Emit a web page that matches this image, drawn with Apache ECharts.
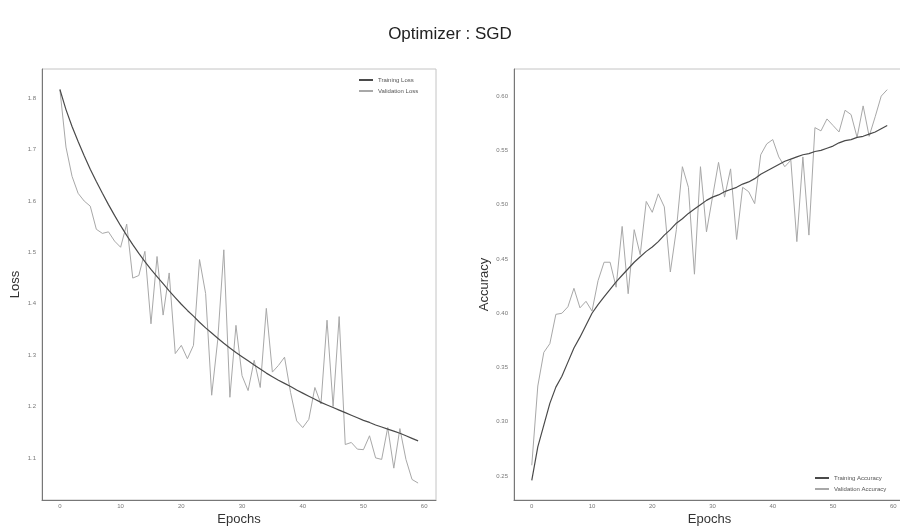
<!DOCTYPE html>
<html>
<head>
<meta charset="utf-8">
<script src="https://cdn.jsdelivr.net/npm/echarts@6/dist/echarts.min.js"></script>
<style>
  html, body { margin: 0; padding: 0; background: #fff; }
  #chart { width: 900px; height: 527px; }
</style>
</head>
<body>
<div id="chart"></div>
<script>
// epochs 0..59
const epochs = [0,1,2,3,4,5,6,7,8,9,10,11,12,13,14,15,16,17,18,19,20,21,22,23,24,25,26,27,28,29,
  30,31,32,33,34,35,36,37,38,39,40,41,42,43,44,45,46,47,48,49,50,51,52,53,54,55,56,57,58,59];

const trainLoss = [1.817,1.778,1.745,1.716,1.688,1.662,1.638,1.615,1.593,1.572,
  1.552,1.533,1.515,1.498,1.482,1.467,1.453,1.439,1.425,1.412,
  1.399,1.387,1.376,1.364,1.353,1.343,1.333,1.323,1.314,1.305,
  1.297,1.289,1.281,1.273,1.265,1.258,1.251,1.245,1.239,1.232,
  1.226,1.220,1.214,1.208,1.203,1.198,1.193,1.188,1.183,1.178,
  1.173,1.169,1.164,1.160,1.156,1.152,1.148,1.143,1.138,1.133];

const valLoss = [1.817,1.705,1.648,1.615,1.600,1.590,1.545,1.537,1.540,1.522,
  1.510,1.555,1.450,1.455,1.502,1.361,1.492,1.378,1.460,1.303,
  1.319,1.293,1.319,1.486,1.420,1.222,1.330,1.505,1.218,1.358,
  1.260,1.231,1.290,1.237,1.391,1.267,1.280,1.296,1.227,1.172,
  1.159,1.175,1.237,1.205,1.368,1.200,1.375,1.126,1.130,1.117,
  1.116,1.143,1.100,1.097,1.159,1.080,1.157,1.097,1.058,1.051];

const trainAcc = [0.246,0.277,0.297,0.317,0.332,0.342,0.355,0.368,0.378,0.389,
  0.400,0.408,0.415,0.422,0.429,0.435,0.441,0.447,0.452,0.457,
  0.461,0.466,0.472,0.477,0.483,0.487,0.492,0.496,0.500,0.504,
  0.507,0.509,0.512,0.514,0.516,0.519,0.521,0.524,0.528,0.531,
  0.534,0.537,0.540,0.542,0.544,0.546,0.547,0.549,0.550,0.552,
  0.554,0.557,0.559,0.560,0.562,0.563,0.565,0.567,0.570,0.573];

const valAcc = [0.260,0.333,0.364,0.372,0.399,0.400,0.406,0.423,0.405,0.411,
  0.402,0.430,0.447,0.447,0.424,0.480,0.418,0.477,0.454,0.503,
  0.493,0.510,0.498,0.438,0.477,0.535,0.516,0.436,0.535,0.475,
  0.507,0.539,0.507,0.533,0.468,0.516,0.512,0.501,0.546,0.556,
  0.560,0.544,0.535,0.541,0.466,0.544,0.472,0.571,0.568,0.579,
  0.573,0.567,0.587,0.583,0.562,0.591,0.563,0.581,0.600,0.606];

const epochTicks = [0, 10, 20, 30, 40, 50, 60];
const lossTicks = [1.1, 1.2, 1.3, 1.4, 1.5, 1.6, 1.7, 1.8];
const accTicks = [0.25, 0.30, 0.35, 0.40, 0.45, 0.50, 0.55, 0.60];

const FONT = 'Liberation Sans';
const TRAIN_COLOR = '#4a4a4a';
const VAL_COLOR = '#a8a8a8';

const pairs = (ys) => epochs.map((e, i) => [e, ys[i]]);

const chart = echarts.init(document.getElementById('chart'), null, {renderer: 'canvas'});

function xAxis(gridIndex) {
  return {
    type: 'value', gridIndex,
    min: -2.95, max: 61.95,
    name: 'Epochs', nameLocation: 'middle', nameGap: 13, nameMoveOverlap: false,
    nameTextStyle: {fontFamily: FONT, fontSize: 13, color: '#333'},
    axisLine: {show: true, onZero: false, lineStyle: {color: '#777', width: 1}},
    axisTick: {show: false},
    splitLine: {show: false},
    axisLabel: {
      customValues: epochTicks, fontFamily: FONT, fontSize: 6, color: '#777', margin: 3,
      formatter: (v) => String(v)
    }
  };
}

function yAxis(gridIndex, name, min, max, ticks, digits, gap) {
  return {
    type: 'value', gridIndex, min, max,
    name, nameLocation: 'middle', nameGap: gap, nameMoveOverlap: false,
    nameTextStyle: {fontFamily: FONT, fontSize: 13, color: '#333'},
    axisLine: {show: true, onZero: false, lineStyle: {color: '#777', width: 1}},
    axisTick: {show: false},
    splitLine: {show: false},
    axisLabel: {
      customValues: ticks, fontFamily: FONT, fontSize: 6, color: '#777', margin: 6,
      formatter: (v) => v.toFixed(digits)
    }
  };
}

function line(name, data, color, width, xi) {
  return {
    name, type: 'line', xAxisIndex: xi, yAxisIndex: xi,
    data, showSymbol: false, symbol: 'none',
    lineStyle: {color, width}, itemStyle: {color},
    z: color === TRAIN_COLOR ? 3 : 2
  };
}

const legendText = {fontFamily: FONT, fontSize: 6, color: '#555'};

chart.setOption({
  animation: false,
  backgroundColor: '#fff',
  title: {
    text: 'Optimizer : SGD', left: 'center', top: 21,
    textStyle: {fontFamily: FONT, fontSize: 17, fontWeight: 'normal', color: '#222'}
  },
  grid: [
    {left: 42, top: 69, width: 394, height: 431, show: true, borderColor: '#c4c4c4', borderWidth: 1,
      outerBoundsMode: 'none'},
    {left: 514, top: 69, width: 391, height: 431, show: true, borderColor: '#c4c4c4', borderWidth: 1,
      outerBoundsMode: 'none'}
  ],
  legend: [
    {
      data: ['Training Loss', 'Validation Loss'], orient: 'vertical',
      left: 354, top: 72, itemWidth: 14, itemHeight: 2, itemGap: 5,
      icon: 'rect', textStyle: legendText
    },
    {
      data: ['Training Accuracy', 'Validation Accuracy'], orient: 'vertical',
      left: 810, top: 470, itemWidth: 14, itemHeight: 2, itemGap: 5,
      icon: 'rect', textStyle: legendText
    }
  ],
  xAxis: [xAxis(0), xAxis(1)],
  yAxis: [
    yAxis(0, 'Loss', 1.018, 1.857, lossTicks, 1, 20),
    yAxis(1, 'Accuracy', 0.228, 0.625, accTicks, 2, 23)
  ],
  series: [
    line('Training Loss', pairs(trainLoss), TRAIN_COLOR, 1.2, 0),
    line('Validation Loss', pairs(valLoss), VAL_COLOR, 1, 0),
    line('Training Accuracy', pairs(trainAcc), TRAIN_COLOR, 1.2, 1),
    line('Validation Accuracy', pairs(valAcc), VAL_COLOR, 1, 1)
  ]
});
</script>
</body>
</html>
